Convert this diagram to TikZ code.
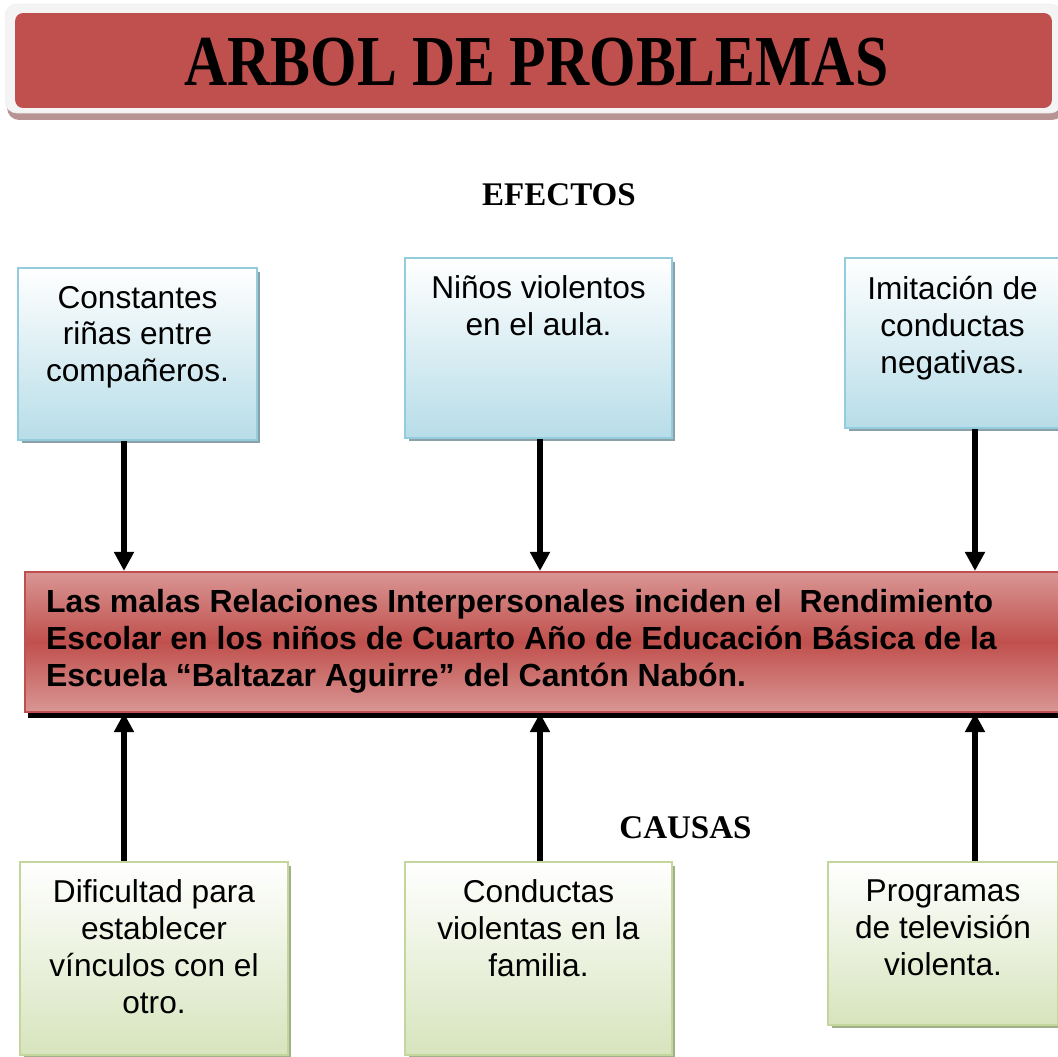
\documentclass[tikz,border=0pt]{standalone}
\usepackage{fontspec}
\setmainfont{Liberation Sans}
\newfontfamily\serifbold{Liberation Serif}
\usetikzlibrary{positioning, shadows, arrows.meta}

\definecolor{rojo}{RGB}{192,80,77}
\definecolor{rojoclaro}{RGB}{217,150,148}
\definecolor{rosasombra}{RGB}{184,148,148}
\definecolor{azulborde}{RGB}{147,205,221}
\definecolor{azulfondo}{RGB}{183,221,232}
\definecolor{azulsombra}{RGB}{140,160,168}
\definecolor{verdeborde}{RGB}{195,214,155}
\definecolor{verdefondo}{RGB}{215,228,189}
\definecolor{verdesombra}{RGB}{162,176,138}

\begin{document}
\begin{tikzpicture}[x=0.02cm, y=-0.02cm,
    marco/.style={rectangle, rounded corners=0.24cm, fill=gray!9, draw=gray!12,
        drop shadow={shadow xshift=0.04cm, shadow yshift=-0.14cm, fill=rosasombra, opacity=1}},
    titulo/.style={rectangle, rounded corners=0.16cm, fill=rojo, inner sep=0pt},
    seccion/.style={font=\serifbold\bfseries\fontsize{18.8}{22}\selectfont},
    efecto/.style={rectangle, draw=azulborde, line width=1.2pt, top color=white, bottom color=azulfondo,
        drop shadow={shadow xshift=0.07cm, shadow yshift=-0.07cm, fill=azulsombra, opacity=1}},
    causa/.style={rectangle, draw=verdeborde, line width=1.2pt, top color=white, bottom color=verdefondo,
        drop shadow={shadow xshift=0.07cm, shadow yshift=-0.07cm, fill=verdesombra, opacity=1}},
    problema/.style={rectangle, draw=rojo, line width=1.2pt, top color=rojoclaro, bottom color=rojoclaro, middle color=rojo,
        drop shadow={shadow xshift=0.05cm, shadow yshift=-0.12cm, fill=black, opacity=1}},
    texto/.style={align=center, inner sep=0pt, outer sep=0pt, font=\fontsize{18}{21}\selectfont},
    flecha/.style={-{Triangle[length=0.38cm, width=0.38cm]}, line width=0.12cm}
]
    \useasboundingbox (0,0) rectangle (1058,1057);

    % Title banner
    \node[marco, minimum width=21.14cm, minimum height=2.18cm] (marco) at (533.5,58.5) {};
    \node[titulo, minimum width=20.74cm, minimum height=1.9cm] (tit) at (533.5,60.5) {};
    \node[font=\serifbold\bfseries\fontsize{34}{40}\selectfont] (titxt) at (536.5,62)
        {\scalebox{1}[1.2]{ARBOL DE PROBLEMAS}};

    % Section headings
    \node[seccion] (efectos) at (559,195) {EFECTOS};
    \node[seccion] (causas) at (685.5,828) {CAUSAS};

    % Effects
    \node[efecto, minimum width=4.78cm, minimum height=3.44cm] (e1) at (137.5,354) {};
    \node[efecto, minimum width=5.34cm, minimum height=3.6cm] (e2) at (538.5,348) {};
    \node[efecto, minimum width=4.3cm, minimum height=3.4cm] (e3) at (952.5,343) {};

    \node[texto, below=0.38cm of e1.north] (e1txt) {Constantes\\riñas entre\\compañeros.};
    \node[texto, below=0.38cm of e2.north] (e2txt) {Niños violentos\\en el aula.};
    \node[texto, below=0.38cm of e3.north] (e3txt) {Imitación de\\conductas\\negativas.};

    % Central problem
    \node[problema, minimum width=21cm, minimum height=2.8cm] (prob) at (550,642) {};
    \node[texto, align=left, anchor=west, font=\bfseries\fontsize{18.2}{21}\selectfont] (probtxt)
        at ([xshift=0.44cm]prob.west |- 0,641)
        {Las malas Relaciones Interpersonales inciden el~ Rendimiento\\
         Escolar en los niños de Cuarto Año de Educación Básica de la\\
         Escuela “Baltazar Aguirre” del Cantón Nabón.};

    % Causes
    \node[causa, minimum width=5.36cm, minimum height=3.86cm] (c1) at (154,958.5) {};
    \node[causa, minimum width=5.34cm, minimum height=3.86cm] (c2) at (538.5,958.5) {};
    \node[causa, minimum width=4.6cm, minimum height=3.26cm] (c3) at (943,943.5) {};

    \node[texto, below=0.38cm of c1.north] (c1txt) {Dificultad para\\establecer\\vínculos con el\\otro.};
    \node[texto, below=0.38cm of c2.north] (c2txt) {Conductas\\violentas en la\\familia.};
    \node[texto, below=0.38cm of c3.north] (c3txt) {Programas\\de televisión\\violenta.};

    % Arrow columns
    \coordinate (k1) at (124,0);
    \coordinate (k2) at (540,0);
    \coordinate (k3) at (975,0);

    \draw[flecha] (e1.south -| k1) -- (prob.north -| k1);
    \draw[flecha] (e2.south -| k2) -- (prob.north -| k2);
    \draw[flecha] (e3.south -| k3) -- (prob.north -| k3);

    \draw[flecha] (c1.north -| k1) -- (prob.south -| k1);
    \draw[flecha] (c2.north -| k2) -- (prob.south -| k2);
    \draw[flecha] (c3.north -| k3) -- (prob.south -| k3);
\end{tikzpicture}
\end{document}
